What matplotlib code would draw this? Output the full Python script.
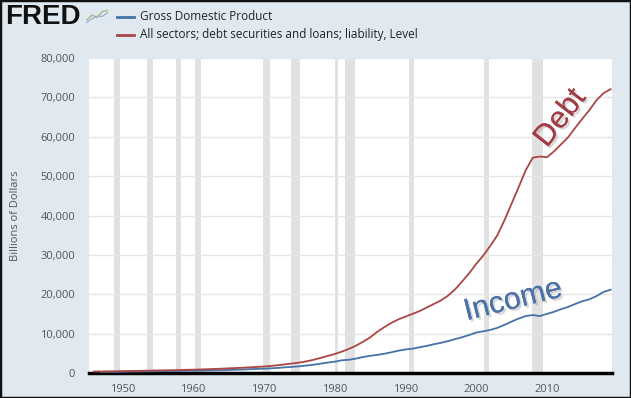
"""FRED chart: GDP vs. total debt (all sectors), billions of dollars."""

from matplotlib import pyplot
from matplotlib import patheffects
from matplotlib.patches import Rectangle
import numpy


# Gross Domestic Product, billions of dollars (annual).
gdp_years = numpy.arange(1947, 2020)
gdp = [249, 274, 272, 300, 347, 367, 389, 391, 425, 449,
       474, 481, 522, 543, 563, 605, 638, 685, 743, 815,
       862, 943, 1019, 1073, 1165, 1280, 1425, 1545, 1684, 1873,
       2082, 2352, 2627, 2857, 3207, 3343, 3634, 4037, 4339, 4580,
       4855, 5236, 5642, 5963, 6158, 6520, 6859, 7287, 7640, 8073,
       8578, 9063, 9631, 10252, 10582, 10936, 11458, 12214, 13037, 13815,
       14452, 14713, 14449, 14992, 15543, 16197, 16785, 17527, 18225, 18715,
       19519, 20580, 21150]

# All sectors; debt securities and loans; liability, billions of dollars.
debt_years = numpy.arange(1946, 2020)
debt = [360, 380, 400, 420, 460, 490, 520, 550, 580, 630,
        660, 690, 730, 790, 830, 880, 940, 1010, 1080, 1160,
        1240, 1320, 1420, 1520, 1620, 1770, 1960, 2180, 2400, 2630,
        2930, 3330, 3800, 4300, 4800, 5400, 6100, 6900, 7900, 9000,
        10400, 11600, 12700, 13600, 14300, 15000, 15700, 16600, 17500, 18400,
        19600, 21200, 23200, 25300, 27700, 29800, 32300, 35000, 38800, 43000,
        47200, 51500, 54700, 55000, 54800, 56300, 58100, 59900, 62300, 64600,
        66800, 69300, 71100, 72100]

# NBER recessions (start, end) as decimal years.
rec_start = [1948.83, 1953.5, 1957.58, 1960.25, 1969.92, 1973.83,
             1980.0, 1981.5, 1990.5, 2001.17, 2007.92]
rec_end = [1949.75, 1954.33, 1958.25, 1961.08, 1970.83, 1975.17,
           1980.5, 1982.83, 1991.17, 2001.83, 2009.42]

x_ticks = [1950, 1960, 1970, 1980, 1990, 2000, 2010]
y_ticks = [0, 10000, 20000, 30000, 40000, 50000, 60000, 70000, 80000]

blue = '#4572a7'
red = '#aa4643'
bg = '#e1e9f0'

pyplot.rc('font', family=['Open Sans', 'DejaVu Sans'], size=8)
fig = pyplot.figure(figsize=(6.31, 3.98), dpi=100, facecolor=bg)
ax = fig.add_axes([0.141, 0.063, 0.829, 0.791])
ax.set_facecolor('white')

for s, e in zip(rec_start, rec_end):
    ax.axvspan(s, e, color='#e1e1e1', linewidth=0, zorder=0)

ax.plot(gdp_years, gdp, color=blue, linewidth=1.3, zorder=3)
ax.plot(debt_years, debt, color=red, linewidth=1.3, zorder=3)

ax.set_xlim(1945.3, 2019.2)
ax.set_ylim(0, 80000)
ax.set_xticks(x_ticks)
ax.set_yticks(y_ticks)
ax.set_yticklabels([f'{v:,}' for v in y_ticks])
ax.grid(axis='y', color='#e6e6e6', linewidth=1.0, zorder=1)
ax.set_axisbelow(True)
ax.tick_params(axis='both', length=0, colors='#555555', labelsize=8)
ax.tick_params(axis='y', pad=10)
ax.tick_params(axis='x', pad=8)
for side in ['top', 'right', 'left']:
    ax.spines[side].set_visible(False)
ax.spines['bottom'].set_linewidth(2.5)
ax.spines['bottom'].set_color('black')
ax.set_ylabel('Billions of Dollars', color='#555555', fontsize=8, labelpad=14)

# Hand-drawn style annotations with soft drop shadows.
shadow = [patheffects.withSimplePatchShadow(offset=(1.5, -1.5),
                                            shadow_rgbFace='#999999',
                                            alpha=0.4),
          patheffects.Normal()]
ax.text(2011.9, 64700, 'Debt', color='#a33d45', fontsize=22,
        family='Liberation Sans', rotation=52, ha='center', va='center',
        path_effects=shadow, zorder=4)
ax.text(2005.2, 18400, 'Income', color='#4a72a8', fontsize=22,
        family='Liberation Sans', rotation=14, ha='center', va='center',
        path_effects=shadow, zorder=4)

# Header: FRED logo and legend.
fig.text(0.008, 0.958, 'FRED', family='Liberation Sans', weight='bold',
         fontsize=20, color='#111111', va='center')
icon = fig.add_axes([0.136, 0.935, 0.036, 0.045])
icon.plot([0, 1, 2, 3, 4], [0.2, 0.6, 0.4, 0.9, 1.0], color='#9fbf8f', lw=1)
icon.plot([0, 1, 2, 3, 4], [0.0, 0.3, 0.5, 0.5, 0.8], color='#9fb3cf', lw=1)
icon.set_xlim(-0.2, 4.2)
icon.set_ylim(-0.3, 1.2)
icon.axis('off')

fig.lines.append(pyplot.Line2D([0.185, 0.213], [0.958, 0.958],
                               color=blue, lw=2, transform=fig.transFigure))
fig.lines.append(pyplot.Line2D([0.185, 0.213], [0.913, 0.913],
                               color=red, lw=2, transform=fig.transFigure))
fig.text(0.222, 0.958, 'Gross Domestic Product', fontsize=8.5,
         color='#222222', va='center')
fig.text(0.222, 0.913,
         'All sectors; debt securities and loans; liability, Level',
         fontsize=8.5, color='#222222', va='center')

fig.patches.append(Rectangle((0, 0), 1, 1, transform=fig.transFigure,
                             fill=False, edgecolor='#111111', linewidth=2.5))

fig.savefig('out.png', dpi=100, facecolor=bg)
